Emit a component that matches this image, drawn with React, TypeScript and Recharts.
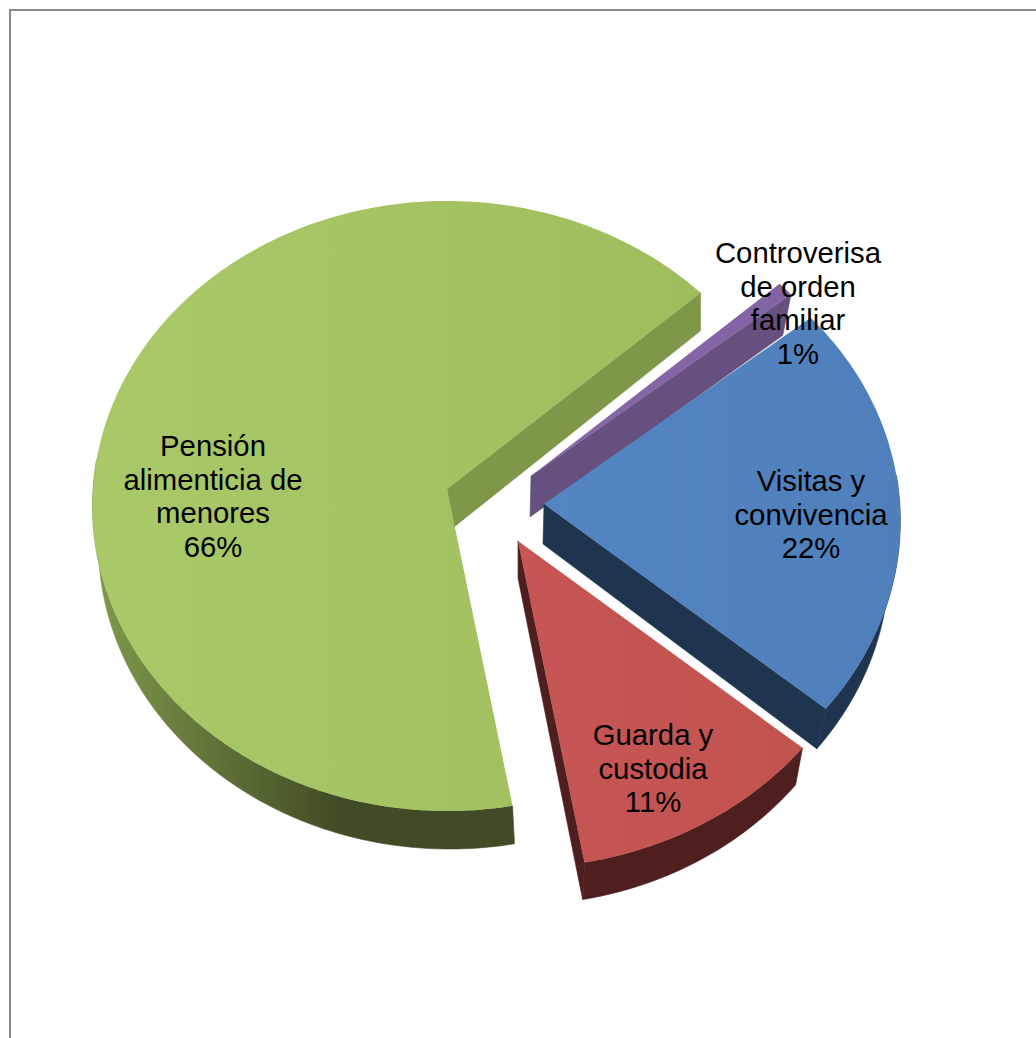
import { PieChart, Pie } from 'recharts';

const categories = ['Controverisa de orden familiar', 'Visitas y convivencia', 'Guarda y custodia', 'Pensión alimenticia de menores'];
const shares = [0.8, 22, 11, 66];
const labelLines = [
  ['Controverisa', 'de orden', 'familiar'],
  ['Visitas y', 'convivencia'],
  ['Guarda y', 'custodia'],
  ['Pensión', 'alimenticia de', 'menores'],
];

const tableData = categories.map((name, i) => ({ name, value: shares[i] }));

// how each slice is pulled out of the pie and painted
const sliceStyles: Record<string, any> = {
  [categories[0]]: { dx: 84, dy: -13, size: 0.98, depth: 41, shift: -1, rimShift: -1, rimSqueeze: 0.028, top: 'url(#topPurple)', side: '#66507F', rim: '#66507F', labelX: 798, labelY: 253 },
  [categories[1]]: { dx: 97, dy: 15, size: 1.005, depth: 40, shift: -1, rimShift: -1, rimSqueeze: 0.028, top: 'url(#topBlue)', side: '#1F344F', rim: '#1F344F', labelX: 811, labelY: 481 },
  [categories[2]]: { dx: 71, dy: 52, size: 1.015, depth: 37, shift: 0, rimShift: 0, rimSqueeze: 0.024, top: 'url(#topRed)', side: '#4E1F1E', rim: '#4E1F1E', labelX: 653, labelY: 735 },
  [categories[3]]: { dx: 0, dy: 0, size: 1, depth: 38, shift: 7, rimShift: 2.6, rimSqueeze: 0.0096, top: 'url(#topGreen)', side: '#7F9748', rim: 'url(#rimGreen)', labelX: 213, labelY: 446 },
};

const PERSPECTIVE = 0.0557;
const TILT = 0.859;
const SQUEEZE = 0.028;
const LINE_HEIGHT = 33.6;

const pathOf = (pts: number[][]) =>
  pts.map((p, i) => `${i ? 'L' : 'M'}${p[0].toFixed(2)} ${p[1].toFixed(2)}`).join(' ') + ' Z';

const TiltedSlice = (props: any) => {
  const { cx, cy, outerRadius, startAngle, endAngle, name } = props;
  const st = sliceStyles[name];
  const ox = cx + st.dx;
  const oy = cy + st.dy;
  const r = outerRadius * st.size;
  // recharts angles run counter-clockwise from east, here clockwise from north
  const from = 90 - startAngle;
  const to = 90 - endAngle;

  const edge = (deg: number) => {
    const t = (deg * Math.PI) / 180;
    const X = Math.sin(t);
    const Y = -Math.cos(t);
    const s = 1 / (1 - PERSPECTIVE * Y);
    return [r * X * s, r * TILT * Y * s, Y];
  };
  const upper = (p: number[]) => [ox + p[0], oy + p[1]];
  const lower = (p: number[]) => [ox + p[0] + st.shift - p[0] * SQUEEZE, oy + p[1] + st.depth];
  const rimLower = (p: number[]) => [ox + p[0] + st.rimShift - p[0] * st.rimSqueeze, oy + p[1] + st.depth];

  const arc: number[][] = [];
  const steps = Math.max(2, Math.ceil(to - from));
  for (let i = 0; i <= steps; i++) arc.push(edge(from + ((to - from) * i) / steps));

  const apex = [0, 0];
  const wallEdge = arc[arc.length - 1];
  const topFace = [upper(apex), ...arc.map(upper)];
  // the far part of the rim never shows
  const nearArc = arc.filter((p) => p[2] > -0.1);

  return (
    <g>
      <path
        d={pathOf([upper(apex), upper(wallEdge), lower(wallEdge), lower(apex)])}
        fill={st.side}
        stroke={st.side}
        strokeWidth={0.6}
      />
      {nearArc.length > 1 && (
        <path
          d={pathOf([...nearArc.map(upper), ...nearArc.slice().reverse().map(rimLower)])}
          fill={st.rim}
          stroke={st.rim}
          strokeWidth={0.6}
        />
      )}
      <path d={pathOf(topFace)} fill={st.top} />
    </g>
  );
};

const sliceLabel = (props: any) => {
  const { name, percent } = props;
  const st = sliceStyles[name];
  const lines = [...labelLines[categories.indexOf(name)], `${Math.round(percent * 100)}%`];
  return (
    <text
      x={st.labelX}
      y={st.labelY}
      textAnchor="middle"
      fontFamily="Liberation Sans"
      fontSize={29.3}
      fill="#000"
    >
      {lines.map((line, i) => (
        <tspan key={line} x={st.labelX} y={st.labelY + 10 + i * LINE_HEIGHT}>
          {line}
        </tspan>
      ))}
    </text>
  );
};

export default function App() {
  return (
    <div style={{ position: 'absolute', left: 0, top: 0, width: 1036, height: 1038, background: '#fff', overflow: 'hidden' }}>
      <div
        style={{
          position: 'absolute',
          left: 9,
          top: 9,
          right: 0,
          bottom: 0,
          borderTop: '2px solid #8a8a8a',
          borderLeft: '2px solid #8a8a8a',
        }}
      />
      <PieChart
        width={1036}
        height={1038}
        margin={{ top: 0, right: 0, bottom: 0, left: 0 }}
        style={{ position: 'absolute', left: 0, top: 0 }}
      >
        <defs>
          <linearGradient id="topGreen" x1="0" y1="0" x2="1" y2="0">
            <stop offset="0" stopColor="#A9C968" />
            <stop offset="1" stopColor="#A0BD5E" />
          </linearGradient>
          <linearGradient id="rimGreen" gradientUnits="userSpaceOnUse" x1="100" y1="0" x2="340" y2="0">
            <stop offset="0" stopColor="#7E974A" />
            <stop offset="1" stopColor="#404C25" />
          </linearGradient>
          <linearGradient id="topBlue" x1="0" y1="0" x2="1" y2="0">
            <stop offset="0" stopColor="#5385C3" />
            <stop offset="1" stopColor="#4F80BB" />
          </linearGradient>
          <linearGradient id="topRed" x1="0" y1="0" x2="1" y2="0">
            <stop offset="0" stopColor="#C75654" />
            <stop offset="1" stopColor="#C1534F" />
          </linearGradient>
          <linearGradient id="topPurple" x1="0" y1="0" x2="1" y2="0">
            <stop offset="0" stopColor="#8667A8" />
            <stop offset="1" stopColor="#8263A3" />
          </linearGradient>
        </defs>
        <Pie
          data={tableData}
          dataKey="value"
          nameKey="name"
          cx={447}
          cy={489}
          outerRadius={354}
          startAngle={42}
          endAngle={-318}
          stroke="none"
          shape={TiltedSlice}
          label={sliceLabel}
          labelLine={false}
          rootTabIndex={-1}
          isAnimationActive={false}
        />
      </PieChart>
    </div>
  );
}
